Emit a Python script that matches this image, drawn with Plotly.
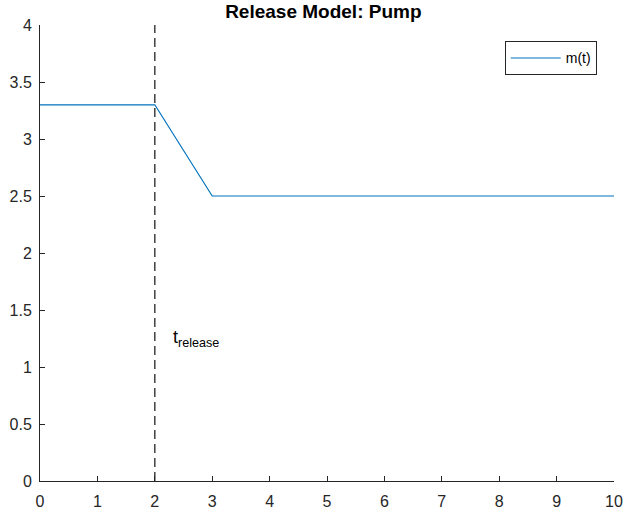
import plotly.graph_objects as go

# Data
t = [0, 2, 3, 10]
m = [3.3, 3.3, 2.5, 2.5]
t_release_x = [2, 2]
t_release_y = [0, 4]
xticks = list(range(0, 11))
yticks = [0, 0.5, 1, 1.5, 2, 2.5, 3, 3.5, 4]
ytick_labels = ["0", "0.5", "1", "1.5", "2", "2.5", "3", "3.5", "4"]

FONT = "Liberation Sans, Arial, Helvetica, sans-serif"
AX = "#262626"

fig = go.Figure()
fig.add_trace(go.Scatter(x=t_release_x, y=t_release_y, mode="lines",
                         line=dict(color="#404040", width=1.5, dash="9px,5px"),
                         showlegend=False, hoverinfo="skip"))
fig.add_trace(go.Scatter(x=t, y=m, mode="lines", name="m(t)",
                         line=dict(color="#0072BD", width=1.2)))

fig.add_annotation(x=2.29, y=1.25, xref="x", yref="y", xanchor="left", yanchor="middle",
                   text="t<sub>release</sub>", showarrow=False,
                   font=dict(family=FONT, size=18, color="#000000"))

fig.update_layout(
    width=623, height=518,
    margin=dict(l=39.5, r=8.7, t=25, b=37.3, autoexpand=False),
    paper_bgcolor="white", plot_bgcolor="white",
    font=dict(family=FONT, size=16, color=AX),
    title=dict(text="<b>Release Model: Pump</b>", x=0.519, xref="container", xanchor="center",
               y=1 - 11 / 518, yref="container", yanchor="middle",
               font=dict(family=FONT, size=19, color="#000000")),
    legend=dict(x=0.97, y=0.964, xanchor="right", yanchor="top",
                bordercolor=AX, borderwidth=1, bgcolor="white", itemwidth=50,
                font=dict(family=FONT, size=14, color="#000000")),
    showlegend=True,
)
fig.update_xaxes(range=[0, 10], tickvals=xticks, ticks="inside", ticklen=5, tickcolor=AX,
                 showline=True, linecolor=AX, linewidth=1, showgrid=False, zeroline=False,
                 automargin=False, ticklabelstandoff=6,
                 tickfont=dict(size=16, color=AX))
fig.update_yaxes(range=[0, 4], tickvals=yticks, ticktext=ytick_labels, ticks="inside", ticklen=5,
                 tickcolor=AX, showline=True, linecolor=AX, linewidth=1, showgrid=False,
                 zeroline=False, automargin=False, ticklabelstandoff=4,
                 tickfont=dict(size=16, color=AX))

fig.write_html("out.html")
